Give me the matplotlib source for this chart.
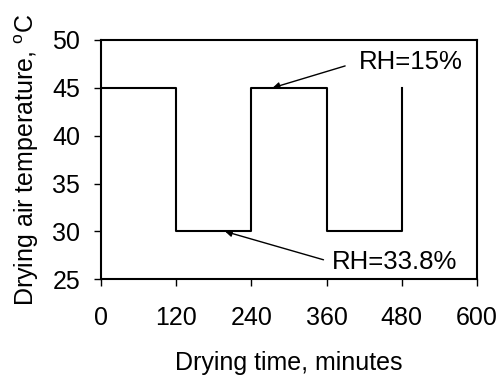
import matplotlib.pyplot as plt

plt.rcParams['font.family'] = ['Liberation Sans', 'DejaVu Sans']
plt.rcParams['mathtext.fontset'] = 'custom'
plt.rcParams['mathtext.rm'] = 'Liberation Sans'

# step profile of drying air temperature
time_min = [0, 120, 120, 240, 240, 360, 360, 480, 480]
temp_c = [45, 45, 30, 30, 45, 45, 30, 30, 45]

xticks = [0, 120, 240, 360, 480, 600]
yticks = [25, 30, 35, 40, 45, 50]

fs = 18

fig = plt.figure(figsize=(5, 3.76), dpi=100)
ax = fig.add_axes([0.202, 0.257, 0.752, 0.637])

ax.plot(time_min, temp_c, color='black', lw=1.5)

ax.set_xlim(0, 600)
ax.set_ylim(25, 50)
ax.set_xticks(xticks)
ax.set_yticks(yticks)
ax.tick_params(labelsize=fs, length=5, width=1, direction='out')
ax.tick_params(axis='x', pad=14)
ax.tick_params(axis='y', pad=10)
for s in ax.spines.values():
    s.set_linewidth(1.5)

ax.set_xlabel('Drying time, minutes', fontsize=fs, labelpad=15)
ax.set_ylabel(r'Drying air temperature, $^\mathregular{o}$C', fontsize=18, labelpad=8)

arrow = dict(arrowstyle='-|>', color='black', lw=1, mutation_scale=10,
             shrinkA=8, shrinkB=0, relpos=(0, 0.5))
ax.annotate('RH=15%', xy=(274, 45), xytext=(411, 47.7), fontsize=18.5,
            va='center', ha='left', arrowprops=arrow)
ax.annotate('RH=33.8%', xy=(198, 30), xytext=(368, 26.8), fontsize=18.5,
            va='center', ha='left', arrowprops=dict(arrow, shrinkA=4))

fig.savefig('out.png', dpi=100)
